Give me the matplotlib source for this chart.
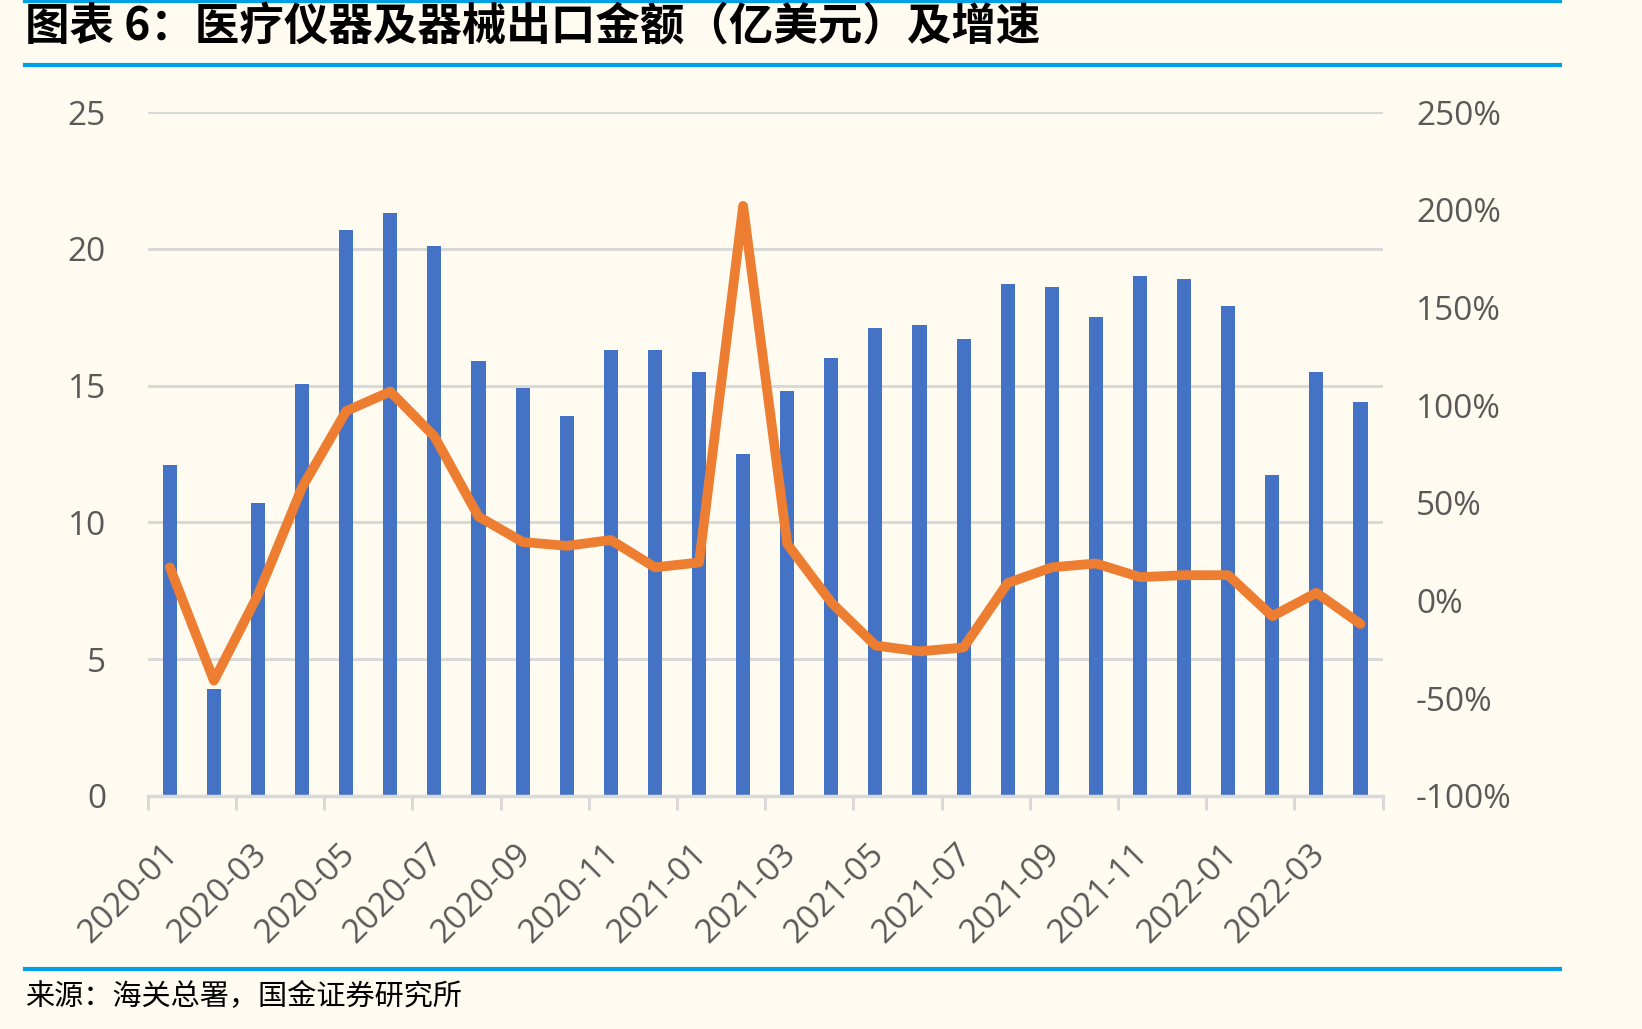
import numpy as np
import matplotlib
matplotlib.use('Agg')
import matplotlib.pyplot as plt
from matplotlib.lines import Line2D
from matplotlib.ticker import FixedLocator, FuncFormatter
from matplotlib.transforms import ScaledTranslation

plt.rcParams['font.family'] = ['Open Sans', 'Noto Sans CJK SC', 'DejaVu Sans']

# monthly data 2020-01 .. 2022-04
months = ['2020-01', '2020-02', '2020-03', '2020-04', '2020-05', '2020-06',
          '2020-07', '2020-08', '2020-09', '2020-10', '2020-11', '2020-12',
          '2021-01', '2021-02', '2021-03', '2021-04', '2021-05', '2021-06',
          '2021-07', '2021-08', '2021-09', '2021-10', '2021-11', '2021-12',
          '2022-01', '2022-02', '2022-03', '2022-04']
export_amt = [12.1, 3.9, 10.7, 15.05, 20.7, 21.3, 20.1, 15.9, 14.9, 13.9, 16.3, 16.3,
              15.5, 12.5, 14.8, 16.0, 17.1, 17.2, 16.7, 18.7, 18.6, 17.5, 19.0, 18.9,
              17.9, 11.75, 15.5, 14.4]
growth = [17, -41, 3, 58, 97, 107, 84, 43, 30, 28, 31, 17,
          19.5, 202, 29, -1, -23, -26, -24, 9, 17, 19, 12, 13,
          13, -8, 4, -12]

bg = '#FFFBF0'
grey_txt = '#595959'
grid_c = '#D9D9D9'

fig = plt.figure(figsize=(16.42, 10.29), dpi=100, facecolor=bg)
ax = fig.add_axes([0.090, 0.2265, 0.752, 0.6645])
ax.set_facecolor(bg)
ax2 = ax.twinx()

x = np.arange(len(months))
ax.bar(x, export_amt, width=0.32, color='#4472C4', zorder=3)
ax2.plot(x, growth, color='#ED7D31', lw=7, solid_joinstyle='round',
         solid_capstyle='round', zorder=4)

ax.set_xlim(-0.5, len(months) - 0.5)
ax.set_ylim(0, 25)
ax.set_yticks([0, 5, 10, 15, 20, 25])
ax2.set_ylim(-100, 250)
ax2.set_yticks(np.arange(-100, 251, 50))
ax2.yaxis.set_major_formatter(FuncFormatter(lambda v, p: '%d%%' % v))

ax.yaxis.grid(True, color=grid_c, lw=2.2, zorder=0)
ax.set_axisbelow(True)

for a in (ax, ax2):
    for s in a.spines.values():
        s.set_visible(False)
ax.spines['bottom'].set_visible(True)
ax.spines['bottom'].set_color(grid_c)
ax.spines['bottom'].set_linewidth(2.5)
ax.spines['bottom'].set_zorder(5)

ax.tick_params(axis='y', length=0, pad=30, labelsize=24, labelcolor=grey_txt)
ax2.tick_params(axis='y', length=0, pad=24, labelsize=24, labelcolor=grey_txt)

# x labels on odd months, tick marks between pairs
ax.set_xticks(x[::2])
ax.set_xticklabels(months[::2], rotation=45, ha='right', va='top',
                   rotation_mode='anchor', fontsize=24, color=grey_txt)
ax.tick_params(axis='x', which='major', length=0, pad=30)
shift = ScaledTranslation(-0.08, 0, fig.dpi_scale_trans)
for lbl in ax.get_xticklabels():
    lbl.set_transform(lbl.get_transform() + shift)
ax.xaxis.set_minor_locator(FixedLocator(np.arange(-0.5, len(months), 2)))
ax.tick_params(axis='x', which='minor', length=10, width=2.2, color=grid_c)

# header / footer
fig.text(0.015, 0.974, '图表 6：医疗仪器及器械出口金额（亿美元）及增速',
         family=['Noto Sans CJK SC', 'DejaVu Sans'], fontsize=32,
         fontweight='bold', ha='left', va='center', color='black')
fig.add_artist(Line2D([0.015, 0.950], [0.937, 0.937], color='#00A0E9', lw=3,
                      transform=fig.transFigure))
fig.add_artist(Line2D([0.015, 0.950], [0.9995, 0.9995], color='#00A0E9', lw=3,
                      transform=fig.transFigure))
fig.add_artist(Line2D([0.015, 0.950], [0.058, 0.058], color='#00A0E9', lw=3,
                      transform=fig.transFigure))
fig.text(0.015, 0.031, '来源：海关总署，国金证券研究所',
         family=['Noto Sans CJK SC', 'DejaVu Sans'], fontsize=21,
         ha='left', va='center', color='black')

fig.savefig('out.png', dpi=100, facecolor=bg)
